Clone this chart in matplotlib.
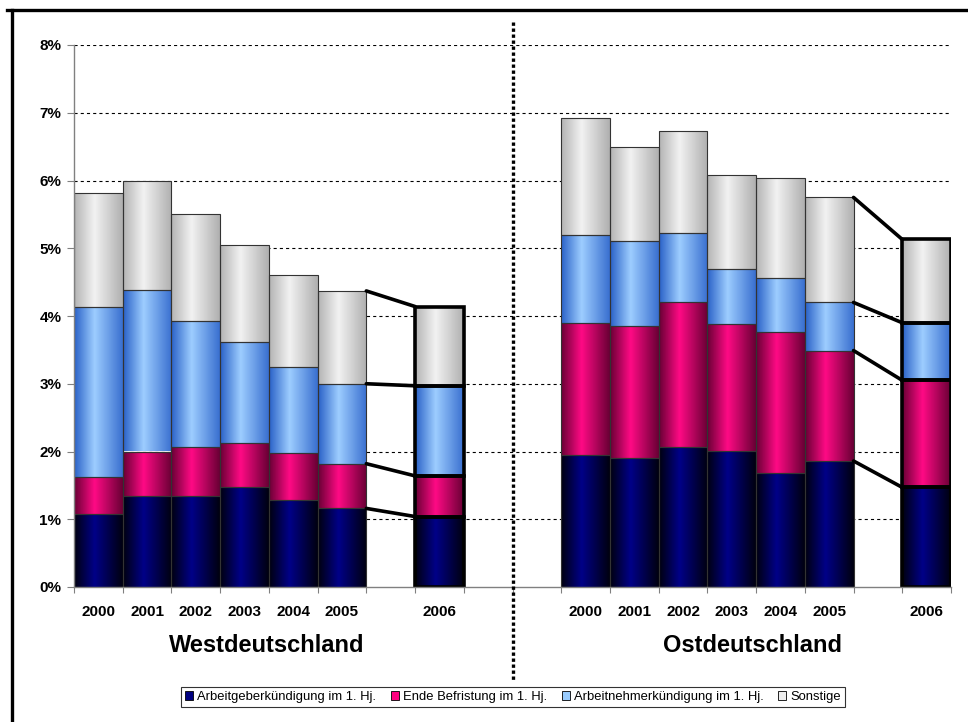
import numpy as np
import matplotlib
matplotlib.use("Agg")
import matplotlib.pyplot as plt
from matplotlib.colors import LinearSegmentedColormap
from matplotlib.lines import Line2D
from matplotlib.patches import Patch

plt.rcParams['font.family'] = ['Liberation Sans', 'DejaVu Sans']

years = ["2000", "2001", "2002", "2003", "2004", "2005", "2006"]
regions = ["Westdeutschland", "Ostdeutschland"]
series = ["Arbeitgeberkündigung im 1. Hj.", "Ende Befristung im 1. Hj.",
          "Arbeitnehmerkündigung im 1. Hj.", "Sonstige"]

# cumulative tops (in %)
west_ag = [1.08, 1.35, 1.35, 1.48, 1.28, 1.16, 1.04]
west_bef = [1.63, 2.00, 2.06, 2.13, 1.98, 1.82, 1.64]
west_an = [4.14, 4.38, 3.93, 3.62, 3.25, 3.00, 2.97]
west_total = [5.81, 6.00, 5.50, 5.05, 4.61, 4.37, 4.14]

east_ag = [1.95, 1.91, 2.07, 2.01, 1.69, 1.86, 1.47]
east_bef = [3.90, 3.85, 4.20, 3.88, 3.77, 3.49, 3.05]
east_an = [5.20, 5.10, 5.23, 4.70, 4.56, 4.20, 3.90]
east_total = [6.92, 6.50, 6.73, 6.08, 6.04, 5.75, 5.13]

yticks = [0, 1, 2, 3, 4, 5, 6, 7, 8]

# slot positions (left edges) of the bars
west_slots = [0, 1, 2, 3, 4, 5, 7]
east_slots = [10, 11, 12, 13, 14, 15, 17]

grad = [("#000010", "#000088", "#000010"),
        ("#6a0035", "#ff0a85", "#6a0035"),
        ("#2a62c8", "#9dcdff", "#3a70d0"),
        ("#b4b4b4", "#f2f2f2", "#b0b0b0")]
solid = ["#000080", "#ff0080", "#99ccff", "#eeeeee"]

fig = plt.figure(figsize=(9.68, 7.22), dpi=100)
ax = fig.add_axes([74/968, 1-587/722, (951-74)/968, (587-45)/722])
ax.set_xlim(0, 18)
ax.set_ylim(0, 8)

for y in yticks[1:]:
    ax.axhline(y, color="black", lw=0.8, ls=(0, (2.8, 2.8)), zorder=1)

gx = np.linspace(0, 1, 64)
gimg = np.vstack([gx, gx])

def draw_group(slots, cums):
    bottoms = [0]*len(slots)
    for si, tops in enumerate(cums):
        cmap = LinearSegmentedColormap.from_list("g%d" % si,
                                                 [(0, grad[si][0]), (0.42, grad[si][1]), (1, grad[si][2])])
        for i, (s, top) in enumerate(zip(slots, tops)):
            last = (i == len(slots)-1)
            b = bottoms[i]
            bars = ax.bar(s, top-b, bottom=b, width=1, align='edge',
                          facecolor='none',
                          edgecolor='black' if last else '#333333',
                          linewidth=2.6 if last else 0.8, zorder=4)
            patch = bars[0]
            im = ax.imshow(gimg, cmap=cmap, aspect='auto',
                           extent=(s, s+1, b, top), zorder=3, interpolation='bilinear')
            im.set_clip_path(patch)
            bottoms[i] = top
    # connectors between 2005 and 2006
    for tops in cums:
        ax.plot([slots[-2]+1, slots[-1]], [tops[-2], tops[-1]],
                color='black', lw=2.6, solid_capstyle='round', zorder=5)

draw_group(west_slots, [west_ag, west_bef, west_an, west_total])
draw_group(east_slots, [east_ag, east_bef, east_an, east_total])
ax.set_xlim(0, 18)
ax.set_ylim(0, 8)

for sp in ["top", "right"]:
    ax.spines[sp].set_visible(False)
for sp in ["left", "bottom"]:
    ax.spines[sp].set_color("#808080")
    ax.spines[sp].set_linewidth(1.0)
    ax.spines[sp].set_zorder(6)

ax.set_yticks(yticks)
ax.set_yticklabels(["%d%%" % v for v in yticks], fontsize=11, fontweight='bold')
ax.tick_params(axis='y', length=5, color="#808080", pad=4)

ax.set_xticks(np.arange(0, 19))
ax.set_xticklabels([])
ax.tick_params(axis='x', which='major', length=4, color="#808080", direction='out')
centers = [s + 0.5 for s in west_slots + east_slots]
ax.set_xticks(centers, minor=True)
ax.set_xticklabels(years + years, minor=True, fontsize=11, fontweight='bold')
ax.tick_params(axis='x', which='minor', length=0, pad=13)

fig.text(267/968, 1-645/722, regions[0], fontsize=17, fontweight='bold', ha='center', va='center')
fig.text(752/968, 1-645/722, regions[1], fontsize=17, fontweight='bold', ha='center', va='center')

# separator
xsep = ax.transData.transform((9, 0))[0] / fig.bbox.width
fig.add_artist(Line2D([xsep, xsep], [1-22/722, 1-680/722], color='black', lw=2.4,
                      ls=(0, (1, 0.8))))

# frame
fig.add_artist(Line2D([7/968, 1], [1-10/722, 1-10/722], color='black', lw=2.4))
fig.add_artist(Line2D([12/968, 12/968], [0, 1-10/722], color='black', lw=2.4))

handles = [Patch(facecolor=c, edgecolor='black', linewidth=0.6) for c in solid]
leg = fig.legend(handles, series, loc='center', bbox_to_anchor=(513/968, 1-697/722),
                 ncol=4, fontsize=9.4, frameon=True, fancybox=False, edgecolor='black',
                 handlelength=0.6, handleheight=0.6, handletextpad=0.3, columnspacing=1.15,
                 borderpad=0.3)
leg.get_frame().set_linewidth(0.8)

fig.savefig("out.png", dpi=100)
